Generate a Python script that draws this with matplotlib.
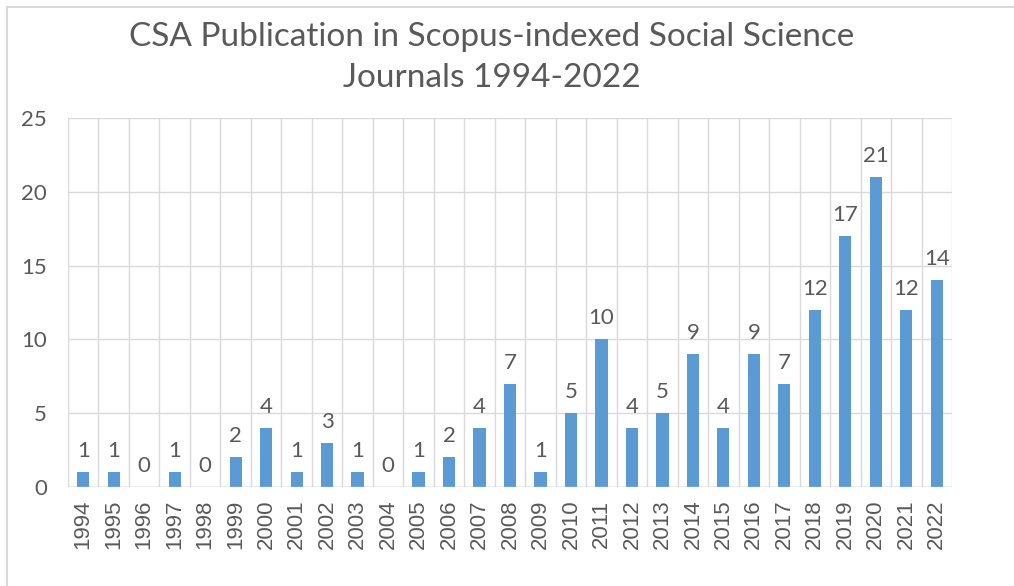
import matplotlib.pyplot as plt
from matplotlib.patches import Rectangle
import numpy as np

years = [str(y) for y in range(1994, 2023)]
counts = [1, 1, 0, 1, 0, 2, 4, 1, 3, 1, 0, 1, 2, 4, 7, 1, 5, 10, 4, 5, 9, 4, 9, 7, 12, 17, 21, 12, 14]
y_ticks = [0, 5, 10, 15, 20, 25]

BLUE = '#5B9BD5'
TEXT = '#595959'
GRID = '#D9D9D9'

W, H = 1014, 586
fig = plt.figure(figsize=(W / 100, H / 100), dpi=100)
fig.patches.append(Rectangle((7 / W, -0.1), 1.2, 1 - 7 / H + 0.1, transform=fig.transFigure,
                             fill=False, edgecolor=GRID, linewidth=1.5))

ax = fig.add_axes([68 / W, (H - 487) / H, 884 / W, 369 / H])
x = np.arange(len(years))
ax.bar(x, counts, width=0.4, color=BLUE, zorder=3)

ax.set_xlim(-0.5, len(years) - 0.5)
ax.set_ylim(0, 25)
ax.set_yticks(y_ticks)
ax.set_yticklabels([str(v) for v in y_ticks], family='Lato', fontsize=16, color=TEXT)
ax.set_xticks(x)
ax.set_xticklabels(years, rotation=90, family='Liberation Sans', fontsize=16, color=TEXT)
ax.tick_params(axis='y', length=0, pad=15)
ax.tick_params(axis='x', length=0, pad=9)

# category boundaries and value gridlines
for b in np.arange(-0.5, len(years), 1.0):
    ax.axvline(b, color=GRID, linewidth=1, zorder=1)
for v in y_ticks:
    ax.axhline(v, color=GRID, linewidth=1, zorder=1)
for s in ax.spines.values():
    s.set_visible(False)
ax.axhline(0, color='#BFBFBF', linewidth=1, zorder=4)

for xi, c in zip(x, counts):
    ax.annotate(str(c), (xi, c), xytext=(0, 8), textcoords='offset points',
                ha='center', va='bottom', family='Lato', fontsize=16, color=TEXT)

fig.text(492 / W, 1 - 37 / H, 'CSA Publication in Scopus-indexed Social Science',
         ha='center', va='center', family='Lato', fontsize=24, color=TEXT)
fig.text(492 / W, 1 - 78 / H, 'Journals 1994-2022',
         ha='center', va='center', family='Lato', fontsize=24, color=TEXT)

fig.savefig('out.png', dpi=100)
